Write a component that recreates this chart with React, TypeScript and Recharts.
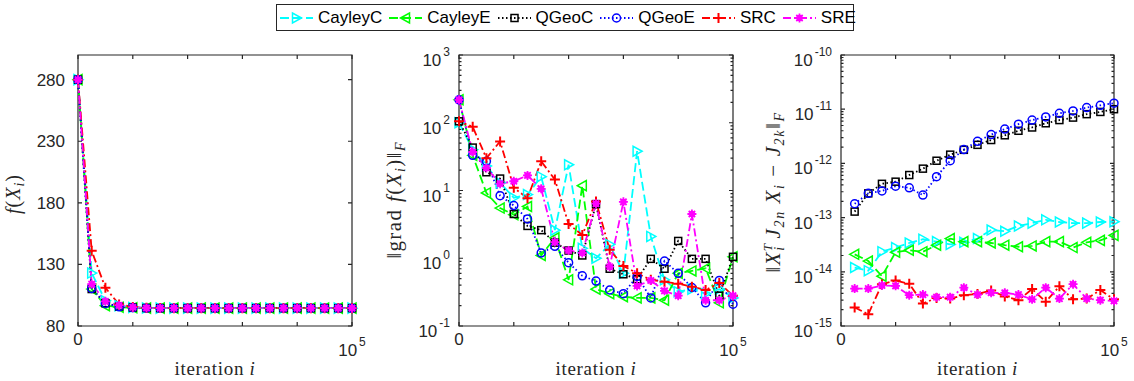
import React from "react";
import { LineChart, Line, XAxis, YAxis, ReferenceArea, ReferenceLine } from "recharts";

// iteration counts (x positions of every sample)
const iterations = [
  0, 5000, 10000, 15000, 20000, 25000, 30000, 35000, 40000, 45000, 50000,
  55000, 60000, 65000, 70000, 75000, 80000, 85000, 90000, 95000, 100000,
];
const seriesNames = ["CayleyC", "CayleyE", "QGeoC", "QGeoE", "SRC", "SRE"];

// panel 1: f(X_i)
const fCayleyC = [280, 123, 100.5, 96.5, 95, 94.6, 94.5, 94.5, 94.5, 94.5, 94.5, 94.5, 94.5, 94.5, 94.5, 94.5, 94.5, 94.5, 94.5, 94.5, 94.5];
const fCayleyE = [280, 110, 96.5, 95.3, 94.8, 94.5, 94.5, 94.5, 94.5, 94.5, 94.5, 94.5, 94.5, 94.5, 94.5, 94.5, 94.5, 94.5, 94.5, 94.5, 94.5];
const fQGeoC = [280, 110, 98.5, 95.8, 95, 94.6, 94.5, 94.5, 94.5, 94.5, 94.5, 94.5, 94.5, 94.5, 94.5, 94.5, 94.5, 94.5, 94.5, 94.5, 94.5];
const fQGeoE = [280, 110.5, 98.3, 95.6, 94.9, 94.5, 94.5, 94.5, 94.5, 94.5, 94.5, 94.5, 94.5, 94.5, 94.5, 94.5, 94.5, 94.5, 94.5, 94.5, 94.5];
const fSRC = [280, 141, 111, 97.5, 95.5, 94.8, 94.6, 94.5, 94.5, 94.5, 94.5, 94.5, 94.5, 94.5, 94.5, 94.5, 94.5, 94.5, 94.5, 94.5, 94.5];
const fSRE = [280, 114, 100, 96.8, 95.2, 94.6, 94.5, 94.5, 94.5, 94.5, 94.5, 94.5, 94.5, 94.5, 94.5, 94.5, 94.5, 94.5, 94.5, 94.5, 94.5];

// panel 2: ||grad f(X_i)||_F
const gCayleyC = [100, 40, 23, 13, 7.8, 8.7, 16, 2.6, 24, 1.4, 1.0, 1.6, 0.6, 38, 2.1, 0.48, 0.32, 0.35, 0.3, 0.35, 0.26];
const gCayleyE = [218, 33, 9.2, 5.5, 4.4, 5.8, 1.1, 2.0, 0.48, 11.8, 0.35, 0.3, 0.27, 0.26, 0.26, 0.24, 0.6, 0.65, 0.71, 0.22, 1.05];
const gQGeoC = [105, 43, 18.6, 15, 4.5, 3.0, 2.6, 1.7, 1.3, 1.1, 6.3, 0.7, 0.58, 0.49, 0.98, 0.7, 1.8, 0.98, 0.98, 0.28, 1.05];
const gQGeoE = [218, 33, 27, 8.4, 6.0, 3.8, 1.2, 1.5, 0.86, 0.55, 0.46, 0.34, 0.3, 0.54, 0.26, 0.91, 0.6, 0.37, 0.22, 0.47, 0.21];
const gSRC = [105, 87, 30, 53, 11, 7.7, 27, 14.5, 3.2, 2.2, 6.9, 1.33, 0.77, 0.6, 0.48, 0.45, 0.42, 0.38, 0.34, 0.43, 0.28];
const gSRE = [218, 37, 21.5, 12.6, 13.7, 16.7, 10.6, 1.73, 1.3, 1.2, 6.4, 0.75, 6.8, 0.39, 0.47, 0.33, 0.28, 4.5, 0.24, 0.24, 0.28];

// panel 3: ||X_i^T J_2n X_i - J_2k||_F (no value at iteration 0)
const cCayleyC = [null, 1.2e-14, 1.05e-14, 2.35e-14, 2.8e-14, 3.4e-14, 4.0e-14, 3.6e-14, 3.2e-14, 3.5e-14, 4.1e-14, 5.9e-14, 5.6e-14, 7.0e-14, 7.9e-14, 9.1e-14, 8.3e-14, 7.9e-14, 7.9e-14, 8.3e-14, 8.4e-14];
const cCayleyE = [null, 2.1e-14, 1.58e-14, 8.3e-15, 2.3e-14, 2.5e-14, 2.35e-14, 3.1e-14, 4.1e-14, 3.6e-14, 3.6e-14, 3.4e-14, 3.1e-14, 2.9e-14, 3.0e-14, 3.6e-14, 3.6e-14, 2.8e-14, 3.5e-14, 3.8e-14, 4.7e-14];
const cQGeoC = [null, 1.29e-13, 2.8e-13, 4.2e-13, 4.6e-13, 6.1e-13, 8.0e-13, 1.12e-12, 1.45e-12, 1.78e-12, 2.2e-12, 2.7e-12, 3.3e-12, 4.0e-12, 4.6e-12, 5.5e-12, 6.3e-12, 7.0e-12, 8.1e-12, 8.9e-12, 1.0e-11];
const cQGeoE = [null, 1.8e-13, 2.8e-13, 3.1e-13, 3.8e-13, 3.55e-13, 2.6e-13, 5.7e-13, 1.12e-12, 1.8e-12, 2.56e-12, 3.4e-12, 4.3e-12, 5.3e-12, 6.3e-12, 7.2e-12, 8.4e-12, 9.3e-12, 1.07e-11, 1.18e-11, 1.29e-11];
const cSRC = [null, 2.2e-15, 1.65e-15, 5.9e-15, 6.9e-15, 6.0e-15, 2.6e-15, 3.3e-15, 3.2e-15, 3.7e-15, 3.9e-15, 4.5e-15, 3.5e-15, 3.0e-15, 4.8e-15, 2.8e-15, 5.4e-15, 3.1e-15, 3.2e-15, 4.6e-15, 3.1e-15];
const cSRE = [null, 4.9e-15, 4.9e-15, 5.6e-15, 5.5e-15, 3.7e-15, 3.8e-15, 3.4e-15, 3.4e-15, 5.1e-15, 3.8e-15, 4.1e-15, 4.1e-15, 3.8e-15, 3.1e-15, 5.1e-15, 3.2e-15, 5.9e-15, 3.2e-15, 3.0e-15, 2.9e-15];

// axis ticks
const xTicks = [0, 20000, 40000, 60000, 80000, 100000];
const fTicks = [80, 130, 180, 230, 280];
const gMajor = [0.1, 1, 10, 100, 1000];
const cMajor = [1e-15, 1e-14, 1e-13, 1e-12, 1e-11, 1e-10];

const AXIS = "#262626";
const SANS = '"Liberation Sans", Arial, Helvetica, sans-serif';
const SERIF = '"Liberation Serif", "Times New Roman", serif';
const PLOT_TOP = 55;
const PLOT_BOTTOM = 326;

const STYLE: Record<string, { color: string; dash: string; marker: string }> = {
  CayleyC: { color: "#00FFFF", dash: "9 4", marker: "triR" },
  CayleyE: { color: "#00FF00", dash: "9 4", marker: "triL" },
  QGeoC: { color: "#000000", dash: "1.5 2.5", marker: "square" },
  QGeoE: { color: "#0000FF", dash: "1.5 2.5", marker: "circle" },
  SRC: { color: "#FF0000", dash: "8 3 2 3", marker: "plus" },
  SRE: { color: "#FF00FF", dash: "8 3 2 3", marker: "star" },
};

function withMinors(major: number[]) {
  const out: number[] = [];
  major.forEach((m, i) => {
    out.push(m);
    if (i < major.length - 1) for (let k = 2; k <= 9; k++) out.push(m * k);
  });
  return out;
}

const isDecade = (v: number) => Math.abs(Math.log10(v) - Math.round(Math.log10(v))) < 1e-6;

function build(cols: (number | null)[][]) {
  return iterations.map((it, i) => {
    const row: any = { it };
    seriesNames.forEach((n, k) => (row[n] = cols[k][i]));
    return row;
  });
}

const panel1 = build([fCayleyC, fCayleyE, fQGeoC, fQGeoE, fSRC, fSRE]);
const panel2 = build([gCayleyC, gCayleyE, gQGeoC, gQGeoE, gSRC, gSRE]);
const panel3 = build([cCayleyC, cCayleyE, cQGeoC, cQGeoE, cSRC, cSRE]);

function Marker({ shape, cx, cy, color }: any) {
  const s = { fill: "none", stroke: color, strokeWidth: 1.5 };
  switch (shape) {
    case "triR":
      return <polygon points={`${cx + 5},${cy} ${cx - 4},${cy - 5} ${cx - 4},${cy + 5}`} {...s} />;
    case "triL":
      return <polygon points={`${cx - 5},${cy} ${cx + 4},${cy - 5} ${cx + 4},${cy + 5}`} {...s} />;
    case "square":
      return <rect x={cx - 3.5} y={cy - 3.5} width={7} height={7} {...s} />;
    case "circle":
      return <circle cx={cx} cy={cy} r={4} {...s} />;
    case "plus":
      return <path d={`M${cx - 5},${cy}H${cx + 5}M${cx},${cy - 5}V${cy + 5}`} stroke={color} strokeWidth={2} />;
    default:
      return (
        <g>
          <circle cx={cx} cy={cy} r={3.2} fill={color} />
          <path
            d={`M${cx - 4.5},${cy}H${cx + 4.5}M${cx},${cy - 4.5}V${cy + 4.5}M${cx - 3.2},${cy - 3.2}L${cx + 3.2},${cy + 3.2}M${cx - 3.2},${cy + 3.2}L${cx + 3.2},${cy - 3.2}`}
            stroke={color}
            strokeWidth={1.8}
          />
        </g>
      );
  }
}

function Pow({ x, y, exp, anchor }: any) {
  return (
    <text x={x} y={y} textAnchor={anchor} fontSize={17} fontFamily={SANS} fill={AXIS}>
      10
      <tspan dx={2} dy={-10} fontSize={12}>
        {exp}
      </tspan>
    </text>
  );
}

const tickStroke = { stroke: AXIS, strokeWidth: 1.2 };

function LeftLabel({ x, y, payload, log }: any) {
  const v = payload.value;
  if (log && !isDecade(v)) return <g />;
  return log ? (
    <Pow x={x - 9} y={y + 11} exp={Math.round(Math.log10(v))} anchor="end" />
  ) : (
    <text x={x - 13} y={y + 6} textAnchor="end" fontSize={17} fontFamily={SANS} fill={AXIS}>
      {v}
    </text>
  );
}

function BottomLabel({ x, y, payload }: any) {
  const v = payload.value;
  if (v === 0)
    return (
      <text x={x} y={y + 19} textAnchor="middle" fontSize={17} fontFamily={SANS} fill={AXIS}>
        0
      </text>
    );
  if (v === 100000) return <Pow x={x} y={y + 30} exp={5} anchor="middle" />;
  return <g />;
}

// inward tick marks at both ends of a reference line
function HTicks({ x1, x2, y1, len }: any) {
  const l = Math.min(x1, x2);
  const r = Math.max(x1, x2);
  return <path d={`M${l},${y1}h${len}M${r},${y1}h${-len}`} {...tickStroke} />;
}

function VTicks({ x1, y1, y2, len }: any) {
  const t = Math.min(y1, y2);
  const b = Math.max(y1, y2);
  return <path d={`M${x1},${t}v${len}M${x1},${b}v${-len}`} {...tickStroke} />;
}

const sub = { fontSize: 14, dy: 4 };
const titleText = { fontFamily: SERIF, fontSize: 20, letterSpacing: 1, fill: AXIS, textAnchor: "middle" as const };

function Title1() {
  return (
    <text x={20} y={194} transform="rotate(-90 20 194)" {...titleText}>
      <tspan fontStyle="italic">f</tspan>(<tspan fontStyle="italic">X</tspan>
      <tspan fontStyle="italic" {...sub}>i</tspan>
      <tspan dy={-4}>)</tspan>
    </text>
  );
}

function Title2() {
  return (
    <text x={21} y={200} transform="rotate(-90 21 200)" {...titleText} fontSize={21} letterSpacing={1.4}>
      ‖grad <tspan fontStyle="italic">f</tspan>(<tspan fontStyle="italic">X</tspan>
      <tspan fontStyle="italic" {...sub}>i</tspan>
      <tspan dy={-4}>)‖</tspan>
      <tspan fontStyle="italic" {...sub}>F</tspan>
    </text>
  );
}

function Title3() {
  return (
    <text x={20} y={192} transform="rotate(-90 20 192)" {...titleText} fontSize={21} letterSpacing={1.6}>
      ‖<tspan fontStyle="italic">X</tspan>
      <tspan fontStyle="italic" {...sub}>i</tspan>
      <tspan fontStyle="italic" fontSize={13} dx={-6} dy={-12}>T</tspan>
      <tspan fontStyle="italic" dx={4} dy={8}>J</tspan>
      <tspan fontStyle="italic" {...sub}>2n</tspan>
      <tspan fontStyle="italic" dy={-4}> X</tspan>
      <tspan fontStyle="italic" {...sub}>i</tspan>
      <tspan dy={-4}> − </tspan>
      <tspan fontStyle="italic">J</tspan>
      <tspan fontStyle="italic" {...sub}>2k</tspan>
      <tspan dy={-4}>‖</tspan>
      <tspan fontStyle="italic" {...sub}>F</tspan>
    </text>
  );
}

function XTitle({ cx }: any) {
  return (
    <text x={cx} y={375} {...titleText} fontSize={19} letterSpacing={0.7}>
      iteration <tspan fontStyle="italic">i</tspan>
    </text>
  );
}

function Panel({ data, left, width, plotLeft, plotRight, domain, ticks, log, Title }: any) {
  const scale = log ? "log" : "linear";
  return (
    <div style={{ position: "absolute", left, top: 0, width, height: 381 }}>
      <LineChart width={width} height={381} data={data} margin={{ top: PLOT_TOP, right: width - plotRight, bottom: 0, left: 0 }}>
        <XAxis
          dataKey="it"
          type="number"
          domain={[0, 100000]}
          ticks={xTicks}
          interval={0}
          height={381 - PLOT_BOTTOM}
          tickSize={0}
          tickMargin={0}
          tickLine={false}
          axisLine={false}
          tick={<BottomLabel />}
          label={() => <XTitle cx={(plotLeft + plotRight) / 2} />}
        />
        <YAxis
          scale={scale}
          domain={domain}
          ticks={ticks}
          interval={0}
          allowDataOverflow
          width={plotLeft}
          tickSize={0}
          tickMargin={0}
          tickLine={false}
          axisLine={false}
          tick={<LeftLabel log={log} />}
          label={() => <Title />}
        />
        <ReferenceArea
          x1={0}
          x2={100000}
          y1={domain[0]}
          y2={domain[1]}
          fill="none"
          fillOpacity={0}
          stroke={AXIS}
          strokeWidth={1.2}
          ifOverflow="visible"
        />
        {ticks.map((v: number) => (
          <ReferenceLine
            key={`y${v}`}
            y={v}
            stroke="none"
            ifOverflow="visible"
            shape={(p: any) => <HTicks {...p} len={!log || isDecade(v) ? 4 : 2.5} />}
          />
        ))}
        {xTicks.map((v) => (
          <ReferenceLine key={`x${v}`} x={v} stroke="none" ifOverflow="visible" shape={(p: any) => <VTicks {...p} len={4} />} />
        ))}
        {seriesNames.map((name) => {
          const st = STYLE[name];
          return (
            <Line
              key={name}
              dataKey={name}
              type="linear"
              stroke={st.color}
              strokeWidth={1.8}
              strokeDasharray={st.dash}
              isAnimationActive={false}
              activeDot={false}
              dot={(p: any) =>
                p.value == null || p.cy == null ? (
                  <g key={`${name}-${p.index}`} />
                ) : (
                  <Marker key={`${name}-${p.index}`} shape={st.marker} cx={p.cx} cy={p.cy} color={st.color} />
                )
              }
            />
          );
        })}
      </LineChart>
    </div>
  );
}

function Legend() {
  return (
    <div
      style={{
        position: "absolute",
        left: 276,
        top: 4,
        width: 578,
        height: 27,
        border: `1px solid ${AXIS}`,
        display: "flex",
        alignItems: "center",
        paddingLeft: 3,
        boxSizing: "border-box",
        fontFamily: SANS,
        fontSize: 17,
        color: "#000",
        background: "#fff",
      }}
    >
      {seriesNames.map((name) => {
        const st = STYLE[name];
        return (
          <div key={name} style={{ display: "flex", alignItems: "center", marginRight: 7 }}>
            <svg width={33} height={20}>
              <line x1={0} x2={33} y1={10} y2={10} stroke={st.color} strokeWidth={1.8} strokeDasharray={st.dash} />
              <Marker shape={st.marker} cx={16.5} cy={10} color={st.color} />
            </svg>
            <span style={{ marginLeft: 5 }}>{name}</span>
          </div>
        );
      })}
    </div>
  );
}

export default function App() {
  return (
    <div style={{ position: "absolute", left: 0, top: 0, width: 1134, height: 381, background: "#fff", overflow: "hidden" }}>
      <Panel data={panel1} left={0} width={380} plotLeft={78} plotRight={352} domain={[80, 300]} ticks={fTicks} log={false} Title={Title1} />
      <Panel data={panel2} left={380} width={380} plotLeft={79} plotRight={353} domain={[0.1, 1000]} ticks={withMinors(gMajor)} log Title={Title2} />
      <Panel data={panel3} left={760} width={374} plotLeft={81} plotRight={354} domain={[1e-15, 1e-10]} ticks={withMinors(cMajor)} log Title={Title3} />
      <Legend />
    </div>
  );
}
